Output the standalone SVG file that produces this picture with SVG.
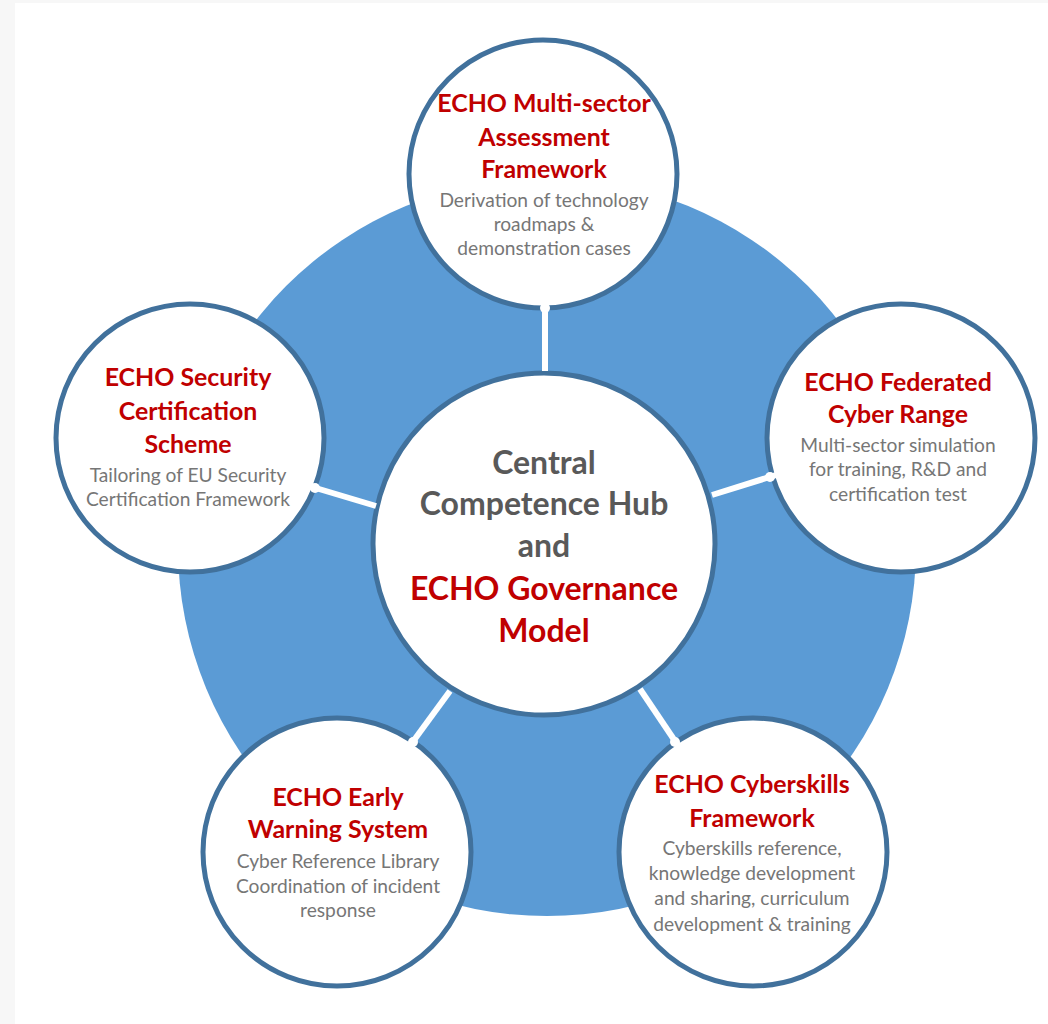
<svg xmlns="http://www.w3.org/2000/svg" width="1048" height="1024" viewBox="0 0 1048 1024">
<style>
.sat{fill:#ffffff;stroke:#41719c;stroke-width:5}
.t{font-family:Lato,"Open Sans","Liberation Sans",sans-serif;font-weight:bold;fill:#c00000;text-anchor:middle;font-size:24.9px}
.b{font-family:Lato,"Open Sans","Liberation Sans",sans-serif;fill:#767676;text-anchor:middle;font-size:19.2px}
.c{font-family:Lato,"Open Sans","Liberation Sans",sans-serif;font-weight:bold;text-anchor:middle;font-size:32px}
.conn{stroke:#ffffff;stroke-width:6;fill:none}
</style>
<rect x="0" y="0" width="1048" height="1024" fill="#ffffff"/>
<rect x="0" y="0" width="15" height="1024" fill="#f7f7f7"/>
<rect x="0" y="0" width="1048" height="3" fill="#f7f7f7"/>
<g id="ring">
<circle cx="547" cy="547" r="369" fill="#5b9bd5"/>
</g>
<g id="hub">
<circle cx="544" cy="544" r="171" class="sat"/>
<text class="c" x="544" y="474" fill="#595959">Central</text>
<text class="c" x="544" y="515" fill="#595959">Competence Hub</text>
<text class="c" x="544" y="557" fill="#595959">and</text>
<text class="c" x="544" y="600" fill="#c00000">ECHO Governance</text>
<text class="c" x="544" y="642" fill="#c00000">Model</text>
</g>
<g id="assessment">
<circle cx="543" cy="174" r="134" class="sat"/>
<text class="t" x="544" y="112">ECHO Multi-sector</text>
<text class="t" x="544" y="146">Assessment</text>
<text class="t" x="544" y="178">Framework</text>
<text class="b" x="544" y="207">Derivation of technology</text>
<text class="b" x="544" y="231">roadmaps &amp;</text>
<text class="b" x="544" y="255">demonstration cases</text>
</g>
<g id="certification">
<circle cx="190" cy="438" r="134" class="sat"/>
<text class="t" x="188" y="386">ECHO Security</text>
<text class="t" x="188" y="420">Certification</text>
<text class="t" x="188" y="453">Scheme</text>
<text class="b" x="188" y="482">Tailoring of EU Security</text>
<text class="b" x="188" y="506">Certification Framework</text>
</g>
<g id="cyberrange">
<circle cx="901" cy="438" r="134" class="sat"/>
<text class="t" x="898" y="391">ECHO Federated</text>
<text class="t" x="898" y="423">Cyber Range</text>
<text class="b" x="898" y="452">Multi-sector simulation</text>
<text class="b" x="898" y="476">for training, R&amp;D and</text>
<text class="b" x="898" y="501">certification test</text>
</g>
<g id="earlywarning">
<circle cx="337" cy="852" r="134" class="sat"/>
<text class="t" x="338" y="806">ECHO Early</text>
<text class="t" x="338" y="838">Warning System</text>
<text class="b" x="338" y="868">Cyber Reference Library</text>
<text class="b" x="338" y="893">Coordination of incident</text>
<text class="b" x="338" y="917">response</text>
</g>
<g id="cyberskills">
<circle cx="753" cy="852" r="134" class="sat"/>
<text class="t" x="752" y="793">ECHO Cyberskills</text>
<text class="t" x="752" y="827">Framework</text>
<text class="b" x="752" y="855">Cyberskills reference,</text>
<text class="b" x="752" y="880">knowledge development</text>
<text class="b" x="752" y="905">and sharing, curriculum</text>
<text class="b" x="752" y="931">development &amp; training</text>
</g>
<g id="connectors">
<line class="conn" x1="545" y1="302" x2="545" y2="371"/>
<line class="conn" x1="309" y1="486" x2="376" y2="506"/>
<line class="conn" x1="776" y1="475" x2="712" y2="495"/>
<line class="conn" x1="409" y1="747" x2="450" y2="691"/>
<line class="conn" x1="679" y1="747" x2="640" y2="689"/>
<g fill="#ffffff">
<circle cx="545" cy="308" r="5"/>
<circle cx="315" cy="488" r="5"/>
<circle cx="770" cy="477" r="5"/>
<circle cx="413" cy="742" r="5"/>
<circle cx="675" cy="742" r="5"/>
</g>
</g>
</svg>
